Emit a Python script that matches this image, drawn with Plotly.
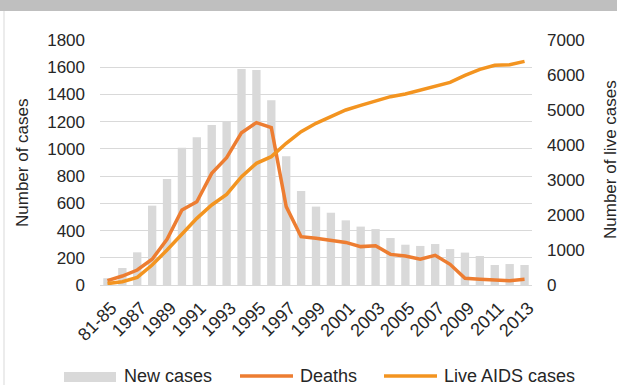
import plotly.graph_objects as go

# Reporting periods
periods = ["81-85", "1986", "1987", "1988", "1989", "1990", "1991", "1992",
           "1993", "1994", "1995", "1996", "1997", "1998", "1999", "2000",
           "2001", "2002", "2003", "2004", "2005", "2006", "2007", "2008",
           "2009", "2010", "2011", "2012", "2013"]

# Annual counts (left axis)
new_cases = [50, 125, 240, 583, 779, 1009, 1085, 1175, 1198, 1587, 1580, 1357,
             945, 691, 576, 531, 475, 429, 411, 345, 296, 287, 301, 264, 238,
             213, 147, 154, 147]
deaths = [32, 66, 110, 189, 336, 551, 612, 820, 935, 1119, 1193, 1156, 576,
          355, 343, 331, 313, 282, 289, 225, 213, 189, 218, 152, 49, 42, 37,
          32, 42]

# People living with AIDS (right axis)
live_cases = [40, 95, 219, 571, 1000, 1457, 1905, 2286, 2590, 3095, 3476,
              3667, 4048, 4381, 4619, 4810, 5000, 5133, 5257, 5381, 5457,
              5571, 5667, 5790, 5990, 6162, 6276, 6295, 6390]

tick_labels = periods[0::2]

BAR_COLOR = "#d9d9d9"
DEATH_COLOR = "#ed7d31"
LIVE_COLOR = "#f39420"
TEXT_COLOR = "#262626"
FONT = "Liberation Sans, Arial, sans-serif"

W, H = 617, 385
ML, MR, MT, MB = 100, 85, 40, 100
PW, PH = W - ML - MR, H - MT - MB


def px_x(px):
    return (px - ML) / PW


def px_y(py):
    return (H - MB - py) / PH


fig = go.Figure()
fig.add_trace(go.Bar(x=periods, y=new_cases, name="New cases",
                     marker=dict(color=BAR_COLOR, line=dict(width=0)),
                     yaxis="y"))
fig.add_trace(go.Scatter(x=periods, y=deaths, name="Deaths", mode="lines",
                         line=dict(color=DEATH_COLOR, width=3.5),
                         yaxis="y"))
fig.add_trace(go.Scatter(x=periods, y=live_cases, name="Live AIDS cases",
                         mode="lines",
                         line=dict(color=LIVE_COLOR, width=3.5),
                         yaxis="y2"))

shapes = [
    # header band
    dict(type="rect", xref="paper", yref="paper",
         x0=px_x(-5), x1=px_x(W + 5), y0=px_y(11), y1=px_y(-5),
         fillcolor="#bfbfbf", line=dict(width=0), layer="above"),
    # left frame edge
    dict(type="line", xref="paper", yref="paper",
         x0=px_x(4), x1=px_x(4), y0=px_y(11), y1=px_y(H + 5),
         line=dict(color="#d9d9d9", width=1)),
]

annotations = [
    dict(text="Number of cases", xref="paper", yref="paper",
         x=px_x(22), y=px_y(163), textangle=-90, showarrow=False,
         font=dict(size=17, color=TEXT_COLOR, family=FONT),
         xanchor="center", yanchor="middle"),
    dict(text="Number of live cases", xref="paper", yref="paper",
         x=px_x(610), y=px_y(160), textangle=-90, showarrow=False,
         font=dict(size=17, color=TEXT_COLOR, family=FONT),
         xanchor="center", yanchor="middle"),
]

# Legend row
LEG_Y = 376
shapes.append(dict(type="rect", xref="paper", yref="paper",
                   x0=px_x(64), x1=px_x(116), y0=px_y(382), y1=px_y(372),
                   fillcolor=BAR_COLOR, line=dict(width=0)))
shapes.append(dict(type="line", xref="paper", yref="paper",
                   x0=px_x(240), x1=px_x(293), y0=px_y(LEG_Y), y1=px_y(LEG_Y),
                   line=dict(color=DEATH_COLOR, width=3.5)))
shapes.append(dict(type="line", xref="paper", yref="paper",
                   x0=px_x(384), x1=px_x(437), y0=px_y(LEG_Y), y1=px_y(LEG_Y),
                   line=dict(color=LIVE_COLOR, width=3.5)))
for label, x0 in [("New cases", 122), ("Deaths", 298), ("Live AIDS cases", 442)]:
    annotations.append(dict(text=label, xref="paper", yref="paper",
                            x=px_x(x0), y=px_y(LEG_Y), showarrow=False,
                            xanchor="left", yanchor="middle",
                            font=dict(size=18, color=TEXT_COLOR, family=FONT)))

fig.update_layout(
    width=W, height=H,
    margin=dict(l=ML, r=MR, t=MT, b=MB, pad=0),
    paper_bgcolor="white", plot_bgcolor="white",
    font=dict(family=FONT, size=17, color=TEXT_COLOR),
    showlegend=False,
    bargap=0.44,
    xaxis=dict(type="category", tickmode="array", tickvals=tick_labels,
               ticktext=tick_labels, tickangle=-45, showgrid=False,
               showline=False, ticks="", tickfont=dict(size=18),
               ticklabelstandoff=8, ticklabelshift=4,
               range=[-0.5, len(periods) - 0.5]),
    yaxis=dict(range=[0, 1800], dtick=200, showgrid=True,
               gridcolor="#d9d9d9", gridwidth=1, zeroline=True,
               zerolinecolor="#d9d9d9", zerolinewidth=1, showline=False,
               ticks="", ticklabelstandoff=14, tickfont=dict(size=17)),
    yaxis2=dict(range=[0, 7000], dtick=1000, overlaying="y", side="right",
                showgrid=False, zeroline=False, showline=False, ticks="",
                ticklabelstandoff=14, tickfont=dict(size=17)),
    shapes=shapes,
    annotations=annotations,
)

fig.write_html("out.html")
